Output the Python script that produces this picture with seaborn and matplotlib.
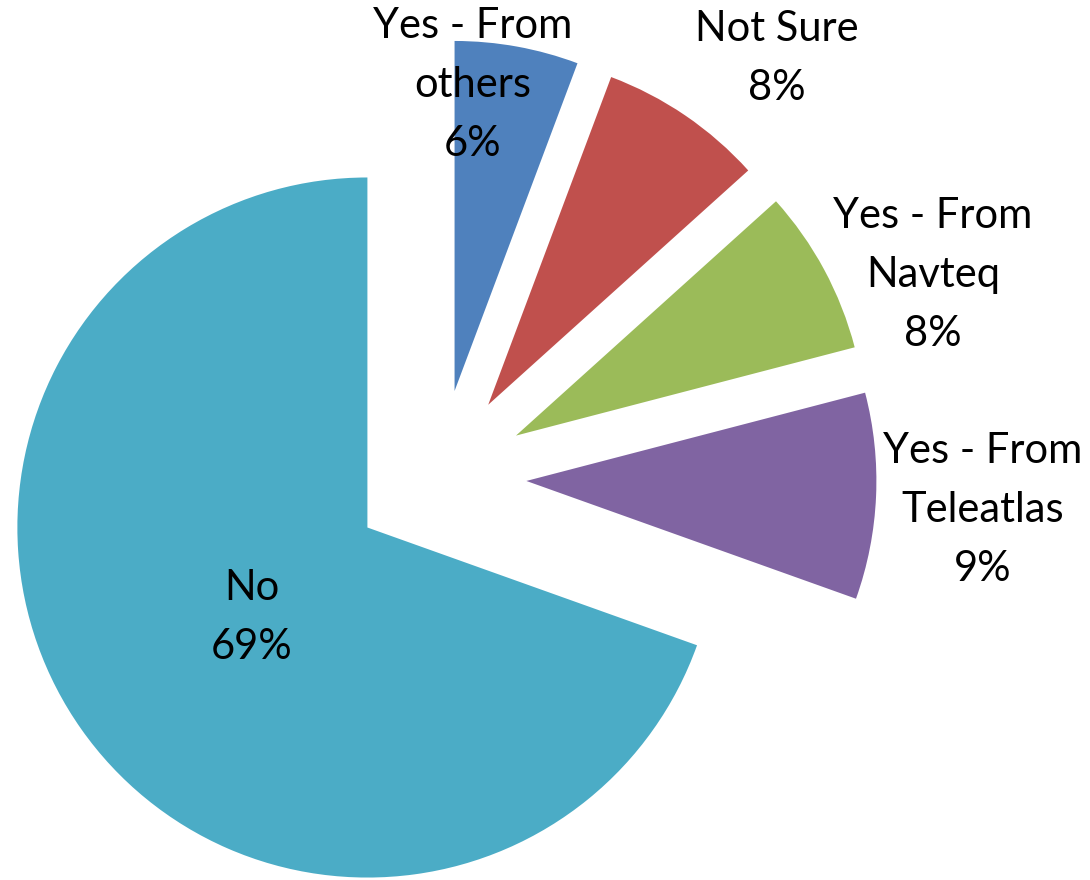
import matplotlib
matplotlib.use("Agg")
import matplotlib.pyplot as plt
import seaborn as sns

# slice data, clockwise from 12 o'clock (shares)
labels = ["Yes - From\nothers", "Not Sure", "Yes - From\nNavteq", "Yes - From\nTeleatlas", "No"]
shares = [5.7, 7.6, 7.6, 9.5, 69.4]
pct_text = ["6%", "8%", "8%", "9%", "69%"]
colors = ["#4F81BD", "#C0504D", "#9BBB59", "#8064A2", "#4BACC6"]

# where each label sits (axes data units, pie radius = 1)
label_pos = [(0.097, 1.12), (0.966, 1.197), (1.411, 0.577), (1.554, -0.094), (-0.534, -0.40)]

sns.set_style("white")
plt.rcParams['font.family'] = ['Lato', 'DejaVu Sans']

fig = plt.figure(figsize=(10.9, 8.8), dpi=100)
ax = fig.add_axes([0, 0, 1, 1])

wedges, _ = ax.pie(shares, colors=colors, startangle=90, counterclock=False,
                   explode=[0.25] * len(shares), radius=1.0,
                   wedgeprops=dict(linewidth=0))

for lab, pct, (x, y) in zip(labels, pct_text, label_pos):
    ax.text(x, y, f"{lab}\n{pct}", ha="center", va="center",
            fontsize=30, linespacing=1.68, color="black")

ax.set_xlim(-1.254, 1.86)
ax.set_ylim(-1.151, 1.363)
ax.set_aspect("equal")
ax.axis("off")

fig.savefig("out.png", dpi=100, facecolor="white")
